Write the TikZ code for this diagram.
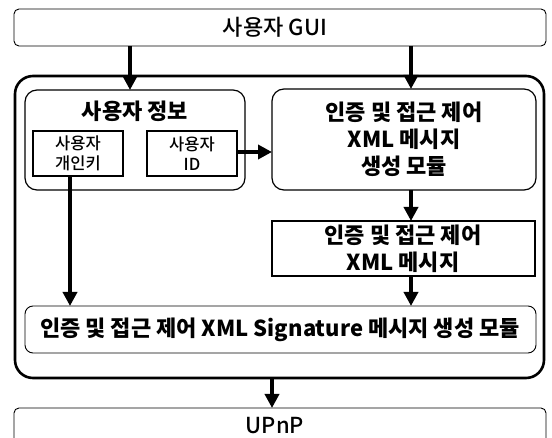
\documentclass[tikz,border=0pt]{standalone}
\usepackage{fontspec}
\setmainfont{Noto Sans CJK KR}
\newfontfamily\medfont{Noto Sans CJK KR Medium}
\usetikzlibrary{arrows.meta}
\begin{document}
\begin{tikzpicture}[x=1pt,y=-1pt,
  thinbox/.style={draw, line width=0.9pt, rounded corners=5pt},
  midbox/.style={draw, line width=1.2pt, rounded corners=12pt},
  sqbox/.style={draw, line width=1.2pt},
  bigbox/.style={draw, line width=2.6pt, rounded corners=18pt},
  arr/.style={line width=4pt, -{Triangle[length=14pt,width=14pt]}},
  lbl/.style={align=center, font=\fontsize{22}{27}\selectfont\bfseries},
  plain/.style={font=\fontsize{22}{26}\selectfont\medfont},
  small/.style={align=center, font=\fontsize{16.5}{20}\selectfont\medfont}
]
\useasboundingbox (0,0) rectangle (552,438);
% top box
\draw[thinbox] (14,9) rectangle (546,46);
\node[plain] (gui) at (275,27.5) {사용자 GUI};
\coordinate (guiL) at (130,46);
\coordinate (guiR) at (411,46);
% big outer box
\draw[bigbox] (15,76) rectangle (544,378);
\coordinate (bigTL) at (130,90);
\coordinate (bigTR) at (411,89);
% user info
\draw[midbox] (25,90) rectangle (245,190);
\node[lbl] (uinfo) at (135,111) {사용자 정보};
\draw[sqbox] (33,131) rectangle (123,176);
\node[small] (pk) at (78,153.5) {사용자\\개인키};
\draw[sqbox] (147,131) rectangle (237,176);
\node[small] (uid) at (192,153.5) {사용자\\ID};
\coordinate (pkB) at (70,176);
\coordinate (uidR) at (237,152);
% generation module
\draw[midbox] (272,89) rectangle (536,190);
\node[lbl] (gen) at (404,139.5) {인증 및 접근 제어\\XML 메시지\\생성 모듈};
\coordinate (genL) at (272,152);
\coordinate (genB) at (411,190);
% message box
\draw[sqbox] (272,221) rectangle (535,276);
\node[lbl] (msg) at (403,248.5) {인증 및 접근 제어\\XML 메시지};
\coordinate (msgT) at (411,221);
\coordinate (msgB) at (411,276);
% signature module
\draw[thinbox, rounded corners=8pt] (25,306) rectangle (536,353);
\node[lbl] (sig) at (280,329.5) {인증 및 접근 제어 XML Signature 메시지 생성 모듈};
\coordinate (sigTL) at (70,306);
\coordinate (sigTR) at (411,306);
\coordinate (bigB) at (272,378);
% UPnP
\draw[thinbox] (14,408) rectangle (546,450);
\node[plain] (upnp) at (275,426) {UPnP};
\coordinate (upnpT) at (272,408);
% arrows
\draw[arr] (guiL) -- (bigTL);
\draw[arr] (guiR) -- (bigTR);
\draw[arr] (uidR) -- (genL);
\draw[arr] (genB) -- (msgT);
\draw[arr] (msgB) -- (sigTR);
\draw[arr] (pkB) -- (sigTL);
\draw[arr] (bigB) -- (upnpT);
\end{tikzpicture}
\end{document}
